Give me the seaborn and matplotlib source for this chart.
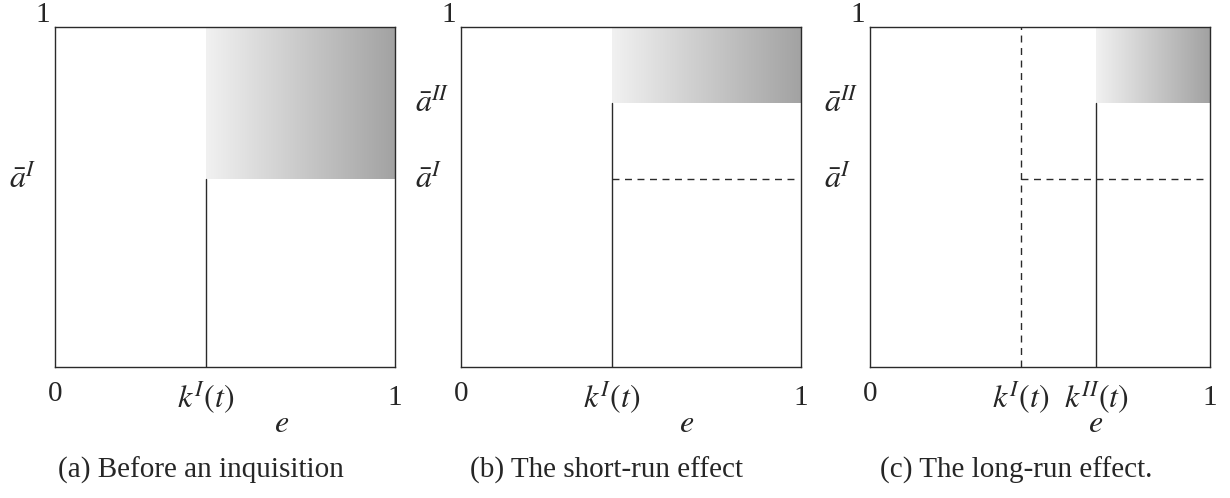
''' Three-panel threshold diagram: before an inquisition, short-run and long-run effect '''

import numpy as np
import matplotlib
matplotlib.use("Agg")
import matplotlib.pyplot as plt
from matplotlib.colors import LinearSegmentedColormap
import seaborn as sns

# thresholds
k_first = 0.444     # k^I(t)
k_second = 0.667    # k^II(t)
a_first = 0.553     # a-bar^I
a_second = 0.776    # a-bar^II

# per panel: shaded-region corner and reference lines
panel_k = [k_first, k_first, k_second]
panel_a = [a_first, a_second, a_second]
panel_captions = ["(a) Before an inquisition", "(b) The short-run effect",
                  "(c) The long-run effect."]

sns.set_theme(style="white")
plt.rcParams['font.family'] = ['Liberation Serif', 'DejaVu Serif']
plt.rcParams['mathtext.fontset'] = 'stix'

FS = 21      # digits and captions
MFS = 23     # math labels
LINE = "#2a2a2a"
shade = LinearSegmentedColormap.from_list("shade", ["#f1f1f1", "#a2a2a2"])

fig = plt.figure(figsize=(12.3, 4.98), dpi=100)
lefts = [55 / 1230, 460.7 / 1230, 869.7 / 1230]
width = 340 / 1230
bottom = (498 - 367) / 498
height = 340 / 498


def vline(ax, x, y0, y1, dashed=False):
    sns.lineplot(x=[x, x], y=[y0, y1], sort=False, estimator=None, ax=ax,
                 color=LINE, linewidth=1.0,
                 linestyle=(0, (5, 4)) if dashed else "-")


def hline(ax, y, x0, x1, dashed=False):
    sns.lineplot(x=[x0, x1], y=[y, y], sort=False, estimator=None, ax=ax,
                 color=LINE, linewidth=1.0,
                 linestyle=(0, (5, 4)) if dashed else "-")


for idx in range(3):
    ax = fig.add_axes([lefts[idx], bottom, width, height])
    k = panel_k[idx]
    a = panel_a[idx]

    grad = np.linspace(0, 1, 256).reshape(1, -1)
    ax.imshow(grad, cmap=shade, extent=[k, 1, a, 1], aspect="auto",
              origin="lower", zorder=1)

    vline(ax, k, 0, a)
    if idx >= 1:
        hline(ax, a_first, k_first, 0.99, dashed=True)
    if idx == 2:
        vline(ax, k_first, 0, 1, dashed=True)

    ax.set_xlim(0, 1)
    ax.set_ylim(0, 1)
    ax.set_xticks([])
    ax.set_yticks([])
    ax.set_xlabel("")
    ax.set_ylabel("")
    for side in ax.spines.values():
        side.set_visible(True)
        side.set_color(LINE)
        side.set_linewidth(1.0)

    # axis annotations
    ax.text(-0.035, 1.035, "1", fontsize=FS, ha="center", va="center", clip_on=False)
    ax.text(0.0, -0.078, "0", fontsize=FS, ha="center", va="center", clip_on=False)
    ax.text(1.0, -0.092, "1", fontsize=FS, ha="center", va="center", clip_on=False)
    ax.text(0.665, -0.168, r"$e$", fontsize=MFS, ha="center", va="center", clip_on=False)

    ax.text(k_first, -0.09, r"$k^{I}(t)$", fontsize=MFS, ha="center", va="center",
            clip_on=False)
    if idx == 2:
        ax.text(k_second, -0.09, r"$k^{II}(t)$", fontsize=MFS, ha="center",
                va="center", clip_on=False)

    ax.text(-0.135, a_first, r"$\bar{a}^{I}$", fontsize=MFS, ha="left", va="center",
            clip_on=False)
    if idx >= 1:
        ax.text(-0.135, a_second, r"$\bar{a}^{II}$", fontsize=MFS, ha="left",
                va="center", clip_on=False)

    ax.text(0.43, -0.305, panel_captions[idx], fontsize=FS, ha="center",
            va="center", clip_on=False)

plt.savefig("out.png", dpi=100)
